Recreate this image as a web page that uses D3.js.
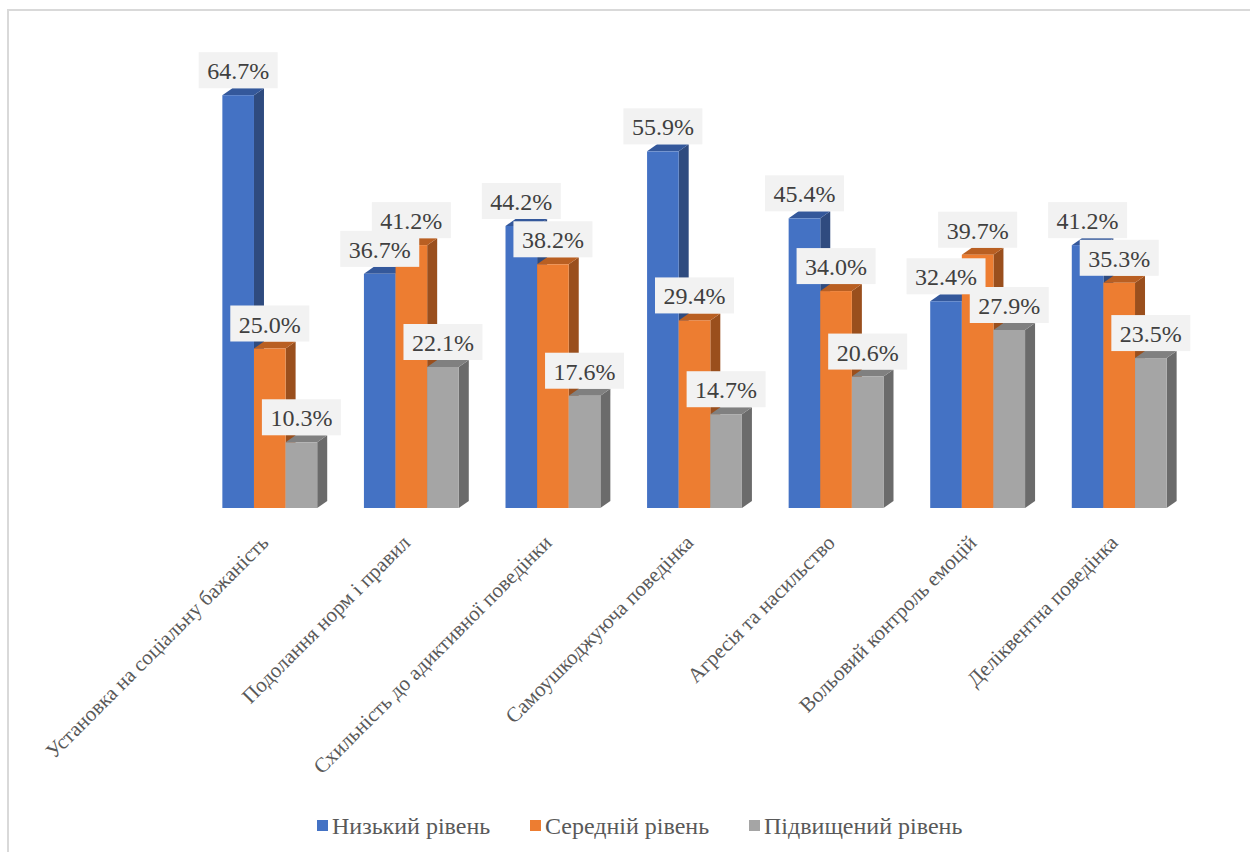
<!DOCTYPE html>
<html>
<head>
<meta charset="utf-8">
<script src="https://cdn.jsdelivr.net/npm/d3@7/dist/d3.min.js"></script>
</head>
<body style="margin:0">
<script>
// data
const categories = [
  'Установка на соціальну бажаність',
  'Подолання норм і правил',
  'Схильність до адиктивної поведінки',
  'Самоушкоджуюча поведінка',
  'Агресія та насильство',
  'Вольовий контроль емоцій',
  'Деліквентна поведінка'
];
const seriesNames = ['Низький рівень', 'Середній рівень', 'Підвищений рівень'];
const lowLevel  = [64.7, 36.7, 44.2, 55.9, 45.4, 32.4, 41.2];
const midLevel  = [25.0, 41.2, 38.2, 29.4, 34.0, 39.7, 35.3];
const highLevel = [10.3, 22.1, 17.6, 14.7, 20.6, 27.9, 23.5];

const series = [lowLevel, midLevel, highLevel];
const colors = ['#4472c4', '#ed7d31', '#a5a5a5'];
const sideColors = ['#2f4b7f', '#9a4f1d', '#6b6b6b'];
const topColors = ['#34589b', '#b95f22', '#808080'];

// dimensions
const dims = { width: 1250, height: 852 };
const base = 508;        // y of the floor
const depth = { dx: 10, dy: 7 };

const svg = d3.select('body')
  .append('svg')
  .attr('width', dims.width)
  .attr('height', dims.height)
  .attr('font-family', 'Times New Roman');

svg.append('style')
  .text('text { font-family: "Times New Roman", "Liberation Serif", Tinos, serif; }');

// chart border (only top and left visible in the crop)
svg.append('path')
  .attr('d', `M8,${dims.height} L8,10 L${dims.width},10`)
  .attr('fill', 'none')
  .attr('stroke', '#d9d9d9')
  .attr('stroke-width', 2);

// scales
const x0 = d3.scaleBand()
  .domain(categories)
  .range([199, 1190])
  .paddingInner(0.33)
  .paddingOuter(0.165);

const x1 = d3.scaleBand()
  .domain(d3.range(series.length))
  .range([0, x0.bandwidth()]);

const y = d3.scaleLinear()
  .domain([0, 70])
  .range([base, base - 70 * 6.38]);

// bars (front, side, top faces)
const groups = svg.append('g').selectAll('g')
  .data(categories)
  .join('g')
  .attr('transform', d => `translate(${x0(d)},0)`);

groups.each(function(cat, ci) {
  const g = d3.select(this);
  series.forEach((s, si) => {
    const v = s[ci];
    const bx = x1(si), w = x1.bandwidth(), top = y(v);
    // side face
    g.append('polygon')
      .attr('points', [
        [bx + w, top], [bx + w + depth.dx, top - depth.dy],
        [bx + w + depth.dx, base - depth.dy], [bx + w, base]
      ].join(' '))
      .attr('fill', sideColors[si]);
    // top face
    g.append('polygon')
      .attr('points', [
        [bx, top], [bx + depth.dx, top - depth.dy],
        [bx + w + depth.dx, top - depth.dy], [bx + w, top]
      ].join(' '))
      .attr('fill', topColors[si]);
    // front face
    g.append('rect')
      .attr('x', bx)
      .attr('y', top)
      .attr('width', w)
      .attr('height', base - top)
      .attr('fill', colors[si]);
  });
});

// value labels (drawn after all bars)
const labelW = 79, labelH = 36;
const labels = svg.append('g');
categories.forEach((cat, ci) => {
  series.forEach((s, si) => {
    const v = s[ci];
    const cx = x0(cat) + x1(si) + x1.bandwidth() / 2;
    const bottom = y(v) - depth.dy;
    labels.append('rect')
      .attr('x', cx - labelW / 2)
      .attr('y', bottom - labelH)
      .attr('width', labelW)
      .attr('height', labelH)
      .attr('fill', '#f2f2f2');
    labels.append('text')
      .attr('x', cx)
      .attr('y', bottom - 9)
      .attr('text-anchor', 'middle')
      .attr('fill', '#404040')
      .attr('font-size', 24)
      .text(v.toFixed(1) + '%');
  });
});

// category labels, rotated
svg.append('g').selectAll('text')
  .data(categories)
  .join('text')
  .attr('transform', d => `translate(${x0(d) + x0.bandwidth() / 2},544) rotate(-45)`)
  .attr('text-anchor', 'end')
  .attr('fill', '#595959')
  .attr('font-size', 21)
  .text(d => d);

// legend
const legendX = [317, 530, 749];
const legend = svg.append('g').selectAll('g')
  .data(seriesNames)
  .join('g')
  .attr('transform', (d, i) => `translate(${legendX[i]},820)`);

legend.append('rect')
  .attr('width', 11)
  .attr('height', 11)
  .attr('fill', (d, i) => colors[i]);

legend.append('text')
  .attr('x', 15)
  .attr('y', 14)
  .attr('fill', '#595959')
  .attr('font-size', 24)
  .text(d => d);
</script>
</body>
</html>
